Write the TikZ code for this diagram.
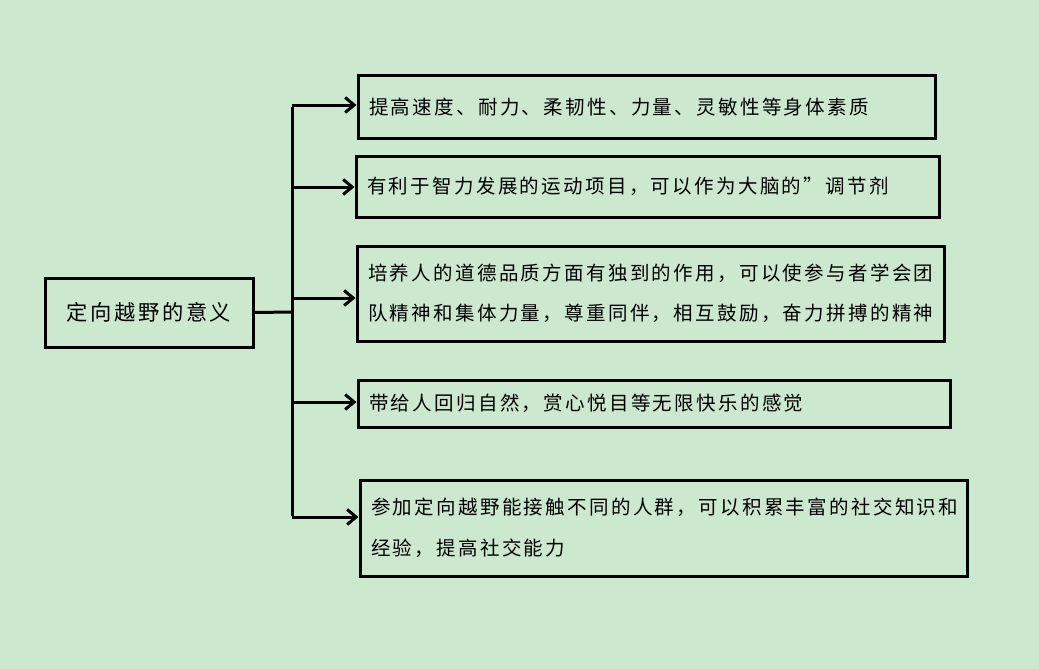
\documentclass[tikz,border=0pt]{standalone}
\usepackage{fontspec}
\newfontfamily\cjk[LetterSpace=12]{Noto Sans CJK SC}
\usetikzlibrary{arrows.meta}
\definecolor{bg}{HTML}{CCE8CF}
\tikzset{
  box/.style={draw=black, line width=3pt, rectangle, inner xsep=11pt, inner ysep=0pt,
    align=left, font=\cjk\fontsize{19.5pt}{40.5pt}\selectfont},
  rootbox/.style={draw=black, line width=3pt, rectangle, inner sep=0pt,
    font=\cjk\fontsize{21.3pt}{24pt}\selectfont},
  conn/.style={line width=3pt},
  arr/.style={line width=3pt, -{Straight Barb[length=9pt,width=15pt,line width=3pt]}}
}
\begin{document}
\begin{tikzpicture}[x=1pt,y=-1pt]
\fill[bg] (0,0) rectangle (1039,669);
\useasboundingbox (0,0) rectangle (1039,669);
% root
\node[rootbox, minimum width=208pt, minimum height=69pt] (root) at (149,312.5) {定向越野的意义};
% boxes
\node[box, minimum width=577pt, minimum height=62pt, text width=555pt] (b1) at (646.5,107) {提高速度、耐力、柔韧性、力量、灵敏性等身体素质};
\node[box, minimum width=583pt, minimum height=61pt, text width=561pt] (b2) at (647.5,186.5) {有利于智力发展的运动项目，可以作为大脑的”调节剂};
\node[box, minimum width=587pt, minimum height=95pt, text width=565pt] (b3) at (650.5,293.5) {培养人的道德品质方面有独到的作用，可以使参与者学会团\\队精神和集体力量，尊重同伴，相互鼓励，奋力拼搏的精神};
\node[box, minimum width=592pt, minimum height=47pt, text width=570pt] (b4) at (654,403.5) {带给人回归自然，赏心悦目等无限快乐的感觉};
\node[box, minimum width=607pt, minimum height=96pt, text width=585pt] (b5) at (663.5,528) {参加定向越野能接触不同的人群，可以积累丰富的社交知识和\\经验，提高社交能力};
% trunk
\coordinate (j) at (292,312);
\coordinate (t1) at (292,105);
\coordinate (t2) at (292,187);
\coordinate (t3) at (292,298);
\coordinate (t4) at (292,402);
\coordinate (t5) at (292,517);
\draw[conn] (root.east) -- (j);
\draw[conn] ([yshift=-1.5pt]t1) -- ([yshift=1.5pt]t5);
\draw[arr] (t1) -- (t1 -| b1.west);
\draw[arr] (t2) -- (t2 -| b2.west);
\draw[arr] (t3) -- (t3 -| b3.west);
\draw[arr] (t4) -- (t4 -| b4.west);
\draw[arr] (t5) -- (t5 -| b5.west);
\end{tikzpicture}
\end{document}
